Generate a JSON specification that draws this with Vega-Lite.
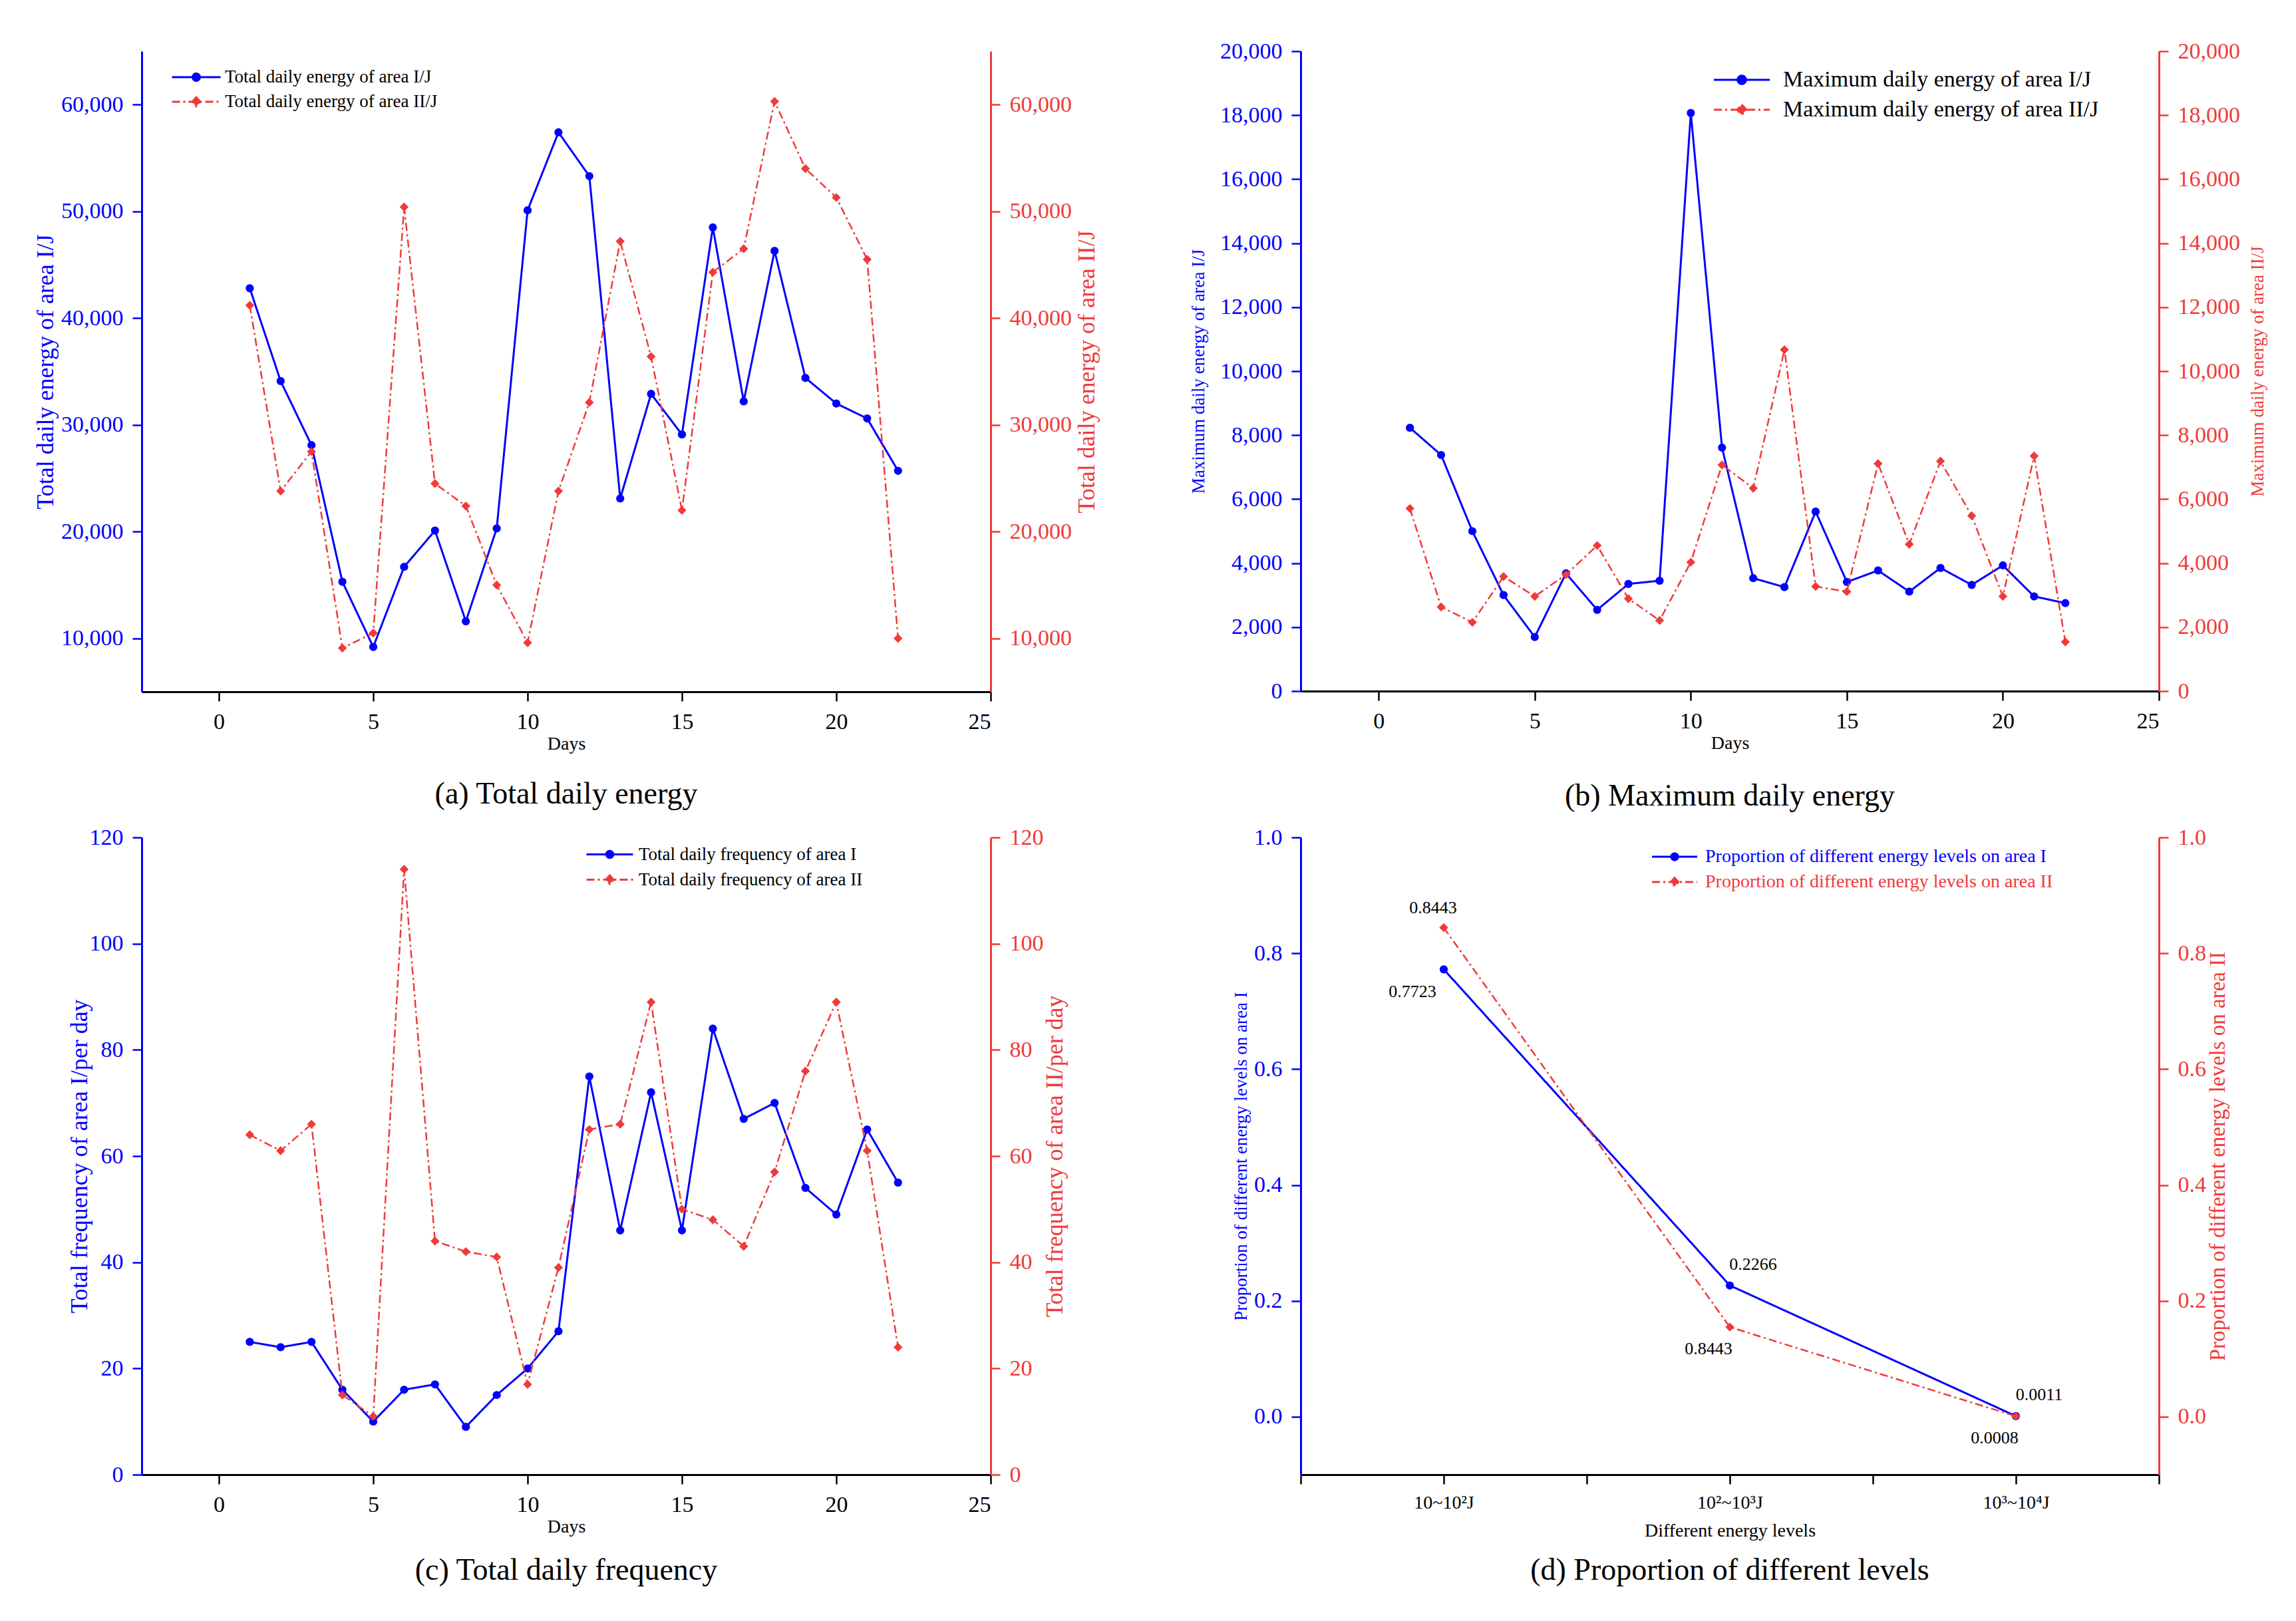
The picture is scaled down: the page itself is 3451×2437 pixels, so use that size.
{
  "$schema": "https://vega.github.io/schema/vega-lite/v6.json",
  "background": "white",
  "padding": {"left": 50, "top": 60, "right": 5, "bottom": 5},
  "bounds": "flush",
  "columns": 2,
  "spacing": {"row": 219, "column": 466},
  "resolve": {"scale": {"color": "independent", "strokeDash": "independent"}},
  "concat": [
    {
      "width": 1276,
      "height": 963,
      "title": {"text": "(a) Total daily energy", "orient": "bottom", "offset": 40},
      "data": {
        "values": [
          {"day": 1, "Total daily energy of area I/J": 42800, "Total daily energy of area II/J": 41200},
          {"day": 2, "Total daily energy of area I/J": 34100, "Total daily energy of area II/J": 23800},
          {"day": 3, "Total daily energy of area I/J": 28100, "Total daily energy of area II/J": 27500},
          {"day": 4, "Total daily energy of area I/J": 15300, "Total daily energy of area II/J": 9100},
          {"day": 5, "Total daily energy of area I/J": 9200, "Total daily energy of area II/J": 10500},
          {"day": 6, "Total daily energy of area I/J": 16700, "Total daily energy of area II/J": 50400},
          {"day": 7, "Total daily energy of area I/J": 20100, "Total daily energy of area II/J": 24500},
          {"day": 8, "Total daily energy of area I/J": 11600, "Total daily energy of area II/J": 22400},
          {"day": 9, "Total daily energy of area I/J": 20300, "Total daily energy of area II/J": 15000},
          {"day": 10, "Total daily energy of area I/J": 50100, "Total daily energy of area II/J": 9600},
          {"day": 11, "Total daily energy of area I/J": 57400, "Total daily energy of area II/J": 23800},
          {"day": 12, "Total daily energy of area I/J": 53300, "Total daily energy of area II/J": 32100},
          {"day": 13, "Total daily energy of area I/J": 23100, "Total daily energy of area II/J": 47200},
          {"day": 14, "Total daily energy of area I/J": 32900, "Total daily energy of area II/J": 36400},
          {"day": 15, "Total daily energy of area I/J": 29100, "Total daily energy of area II/J": 22000},
          {"day": 16, "Total daily energy of area I/J": 48500, "Total daily energy of area II/J": 44300},
          {"day": 17, "Total daily energy of area I/J": 32200, "Total daily energy of area II/J": 46500},
          {"day": 18, "Total daily energy of area I/J": 46300, "Total daily energy of area II/J": 60300},
          {"day": 19, "Total daily energy of area I/J": 34400, "Total daily energy of area II/J": 54000},
          {"day": 20, "Total daily energy of area I/J": 32000, "Total daily energy of area II/J": 51300},
          {"day": 21, "Total daily energy of area I/J": 30600, "Total daily energy of area II/J": 45500},
          {"day": 22, "Total daily energy of area I/J": 25700, "Total daily energy of area II/J": 10000}
        ]
      },
      "transform": [
        {"fold": ["Total daily energy of area I/J", "Total daily energy of area II/J"], "as": ["series", "value"]}
      ],
      "encoding": {
        "x": {
          "field": "day", "type": "quantitative",
          "scale": {"domain": [-2.5, 25], "nice": false, "zero": false},
          "axis": {"values": [0, 5, 10, 15, 20, 25], "title": "Days", "titleFontSize": 28, "titlePadding": 2}
        },
        "color": {
          "field": "series", "type": "nominal",
          "scale": {"domain": ["Total daily energy of area I/J", "Total daily energy of area II/J"], "range": ["#0000ff", "#f03a3a"]},
          "legend": {
            "title": null, "orient": "none", "legendX": 68, "legendY": 25, "padding": 0,
            "labelFontSize": 27, "labelOffset": 29, "labelLimit": 0, "symbolSize": 592, "symbolStrokeWidth": 3, "rowPadding": 10,
            "encoding": {"symbols": {
              "shape": {"value": {"expr": "datum.value === 'Total daily energy of area II/J' ? 'M-3,0H3M0,-0.55L0.5,0L0,0.55L-0.5,0Z' : 'M-3,0H3M0.45,0A0.45,0.45,0,1,1,-0.45,0A0.45,0.45,0,1,1,0.45,0Z'"}},
              "fill": {"value": {"expr": "datum.value === 'Total daily energy of area II/J' ? '#f03a3a' : '#0000ff'"}}
            }}
          }
        },
        "strokeDash": {
          "field": "series", "type": "nominal",
          "scale": {"domain": ["Total daily energy of area I/J", "Total daily energy of area II/J"], "range": [[1, 0], [12, 5, 3, 5]]},
          "legend": {
            "title": null, "orient": "none", "legendX": 68, "legendY": 25, "padding": 0,
            "labelFontSize": 27, "labelOffset": 29, "labelLimit": 0, "symbolSize": 592, "symbolStrokeWidth": 3, "rowPadding": 10,
            "encoding": {"symbols": {
              "shape": {"value": {"expr": "datum.value === 'Total daily energy of area II/J' ? 'M-3,0H3M0,-0.55L0.5,0L0,0.55L-0.5,0Z' : 'M-3,0H3M0.45,0A0.45,0.45,0,1,1,-0.45,0A0.45,0.45,0,1,1,0.45,0Z'"}},
              "fill": {"value": {"expr": "datum.value === 'Total daily energy of area II/J' ? '#f03a3a' : '#0000ff'"}}
            }}
          }
        }
      },
      "layer": [
        {
          "transform": [{"filter": {"field": "series", "equal": "Total daily energy of area I/J"}}],
          "mark": {"type": "line", "strokeWidth": 3, "point": {"filled": true, "size": 150, "shape": "circle"}},
          "encoding": {
            "y": {
              "field": "value", "type": "quantitative",
              "scale": {"domain": [5000, 65000], "nice": false, "zero": false},
              "axis": {
                "orient": "left", "title": "Total daily energy of area I/J",
                "values": [10000, 20000, 30000, 40000, 50000, 60000], "format": ",d",
                "domainColor": "#0000ff", "tickColor": "#0000ff", "labelColor": "#0000ff", "titleColor": "#0000ff",
                "titleFontSize": 36, "titlePadding": 4
              }
            }
          }
        },
        {
          "transform": [{"filter": {"field": "series", "equal": "Total daily energy of area II/J"}}],
          "mark": {"type": "line", "strokeWidth": 2.5, "point": {"filled": true, "size": 180, "shape": "diamond"}},
          "encoding": {
            "y": {
              "field": "value", "type": "quantitative",
              "scale": {"domain": [5000, 65000], "nice": false, "zero": false},
              "axis": {
                "orient": "right", "title": "Total daily energy of area II/J",
                "values": [10000, 20000, 30000, 40000, 50000, 60000], "format": ",d",
                "domainColor": "#f03a3a", "tickColor": "#f03a3a", "labelColor": "#f03a3a", "titleColor": "#f03a3a",
                "titleFontSize": 36, "titleAngle": 270, "titleBaseline": "top", "titlePadding": 6
              }
            }
          }
        }
      ],
      "resolve": {"scale": {"y": "independent"}}
    },
    {
      "width": 1290,
      "height": 962,
      "title": {"text": "(b) Maximum daily energy", "orient": "bottom", "offset": 44},
      "data": {
        "values": [
          {"day": 1, "Maximum daily energy of area I/J": 8230, "Maximum daily energy of area II/J": 5710},
          {"day": 2, "Maximum daily energy of area I/J": 7380, "Maximum daily energy of area II/J": 2630},
          {"day": 3, "Maximum daily energy of area I/J": 5000, "Maximum daily energy of area II/J": 2150},
          {"day": 4, "Maximum daily energy of area I/J": 3000, "Maximum daily energy of area II/J": 3580},
          {"day": 5, "Maximum daily energy of area I/J": 1690, "Maximum daily energy of area II/J": 2960},
          {"day": 6, "Maximum daily energy of area I/J": 3680, "Maximum daily energy of area II/J": 3640},
          {"day": 7, "Maximum daily energy of area I/J": 2540, "Maximum daily energy of area II/J": 4550},
          {"day": 8, "Maximum daily energy of area I/J": 3350, "Maximum daily energy of area II/J": 2890},
          {"day": 9, "Maximum daily energy of area I/J": 3450, "Maximum daily energy of area II/J": 2210},
          {"day": 10, "Maximum daily energy of area I/J": 18070, "Maximum daily energy of area II/J": 4030},
          {"day": 11, "Maximum daily energy of area I/J": 7610, "Maximum daily energy of area II/J": 7070},
          {"day": 12, "Maximum daily energy of area I/J": 3530, "Maximum daily energy of area II/J": 6340},
          {"day": 13, "Maximum daily energy of area I/J": 3250, "Maximum daily energy of area II/J": 10670},
          {"day": 14, "Maximum daily energy of area I/J": 5610, "Maximum daily energy of area II/J": 3270},
          {"day": 15, "Maximum daily energy of area I/J": 3410, "Maximum daily energy of area II/J": 3110},
          {"day": 16, "Maximum daily energy of area I/J": 3770, "Maximum daily energy of area II/J": 7110},
          {"day": 17, "Maximum daily energy of area I/J": 3110, "Maximum daily energy of area II/J": 4590},
          {"day": 18, "Maximum daily energy of area I/J": 3850, "Maximum daily energy of area II/J": 7190},
          {"day": 19, "Maximum daily energy of area I/J": 3320, "Maximum daily energy of area II/J": 5480},
          {"day": 20, "Maximum daily energy of area I/J": 3930, "Maximum daily energy of area II/J": 2960},
          {"day": 21, "Maximum daily energy of area I/J": 2960, "Maximum daily energy of area II/J": 7350},
          {"day": 22, "Maximum daily energy of area I/J": 2750, "Maximum daily energy of area II/J": 1540}
        ]
      },
      "transform": [
        {"fold": ["Maximum daily energy of area I/J", "Maximum daily energy of area II/J"], "as": ["series", "value"]}
      ],
      "encoding": {
        "x": {
          "field": "day", "type": "quantitative",
          "scale": {"domain": [-2.5, 25], "nice": false, "zero": false},
          "axis": {"values": [0, 5, 10, 15, 20, 25], "title": "Days", "titleFontSize": 28, "titlePadding": 2}
        },
        "color": {
          "field": "series", "type": "nominal",
          "scale": {"domain": ["Maximum daily energy of area I/J", "Maximum daily energy of area II/J"], "range": ["#0000ff", "#f03a3a"]},
          "legend": {
            "title": null, "orient": "none", "legendX": 646, "legendY": 26, "padding": 0,
            "labelFontSize": 34, "labelOffset": 45, "labelLimit": 0, "symbolSize": 784, "symbolStrokeWidth": 3, "rowPadding": 11,
            "encoding": {"symbols": {
              "shape": {"value": {"expr": "datum.value === 'Maximum daily energy of area II/J' ? 'M-3,0H3M0,-0.55L0.5,0L0,0.55L-0.5,0Z' : 'M-3,0H3M0.45,0A0.45,0.45,0,1,1,-0.45,0A0.45,0.45,0,1,1,0.45,0Z'"}},
              "fill": {"value": {"expr": "datum.value === 'Maximum daily energy of area II/J' ? '#f03a3a' : '#0000ff'"}}
            }}
          }
        },
        "strokeDash": {
          "field": "series", "type": "nominal",
          "scale": {"domain": ["Maximum daily energy of area I/J", "Maximum daily energy of area II/J"], "range": [[1, 0], [12, 5, 3, 5]]},
          "legend": {
            "title": null, "orient": "none", "legendX": 646, "legendY": 26, "padding": 0,
            "labelFontSize": 34, "labelOffset": 45, "labelLimit": 0, "symbolSize": 784, "symbolStrokeWidth": 3, "rowPadding": 11,
            "encoding": {"symbols": {
              "shape": {"value": {"expr": "datum.value === 'Maximum daily energy of area II/J' ? 'M-3,0H3M0,-0.55L0.5,0L0,0.55L-0.5,0Z' : 'M-3,0H3M0.45,0A0.45,0.45,0,1,1,-0.45,0A0.45,0.45,0,1,1,0.45,0Z'"}},
              "fill": {"value": {"expr": "datum.value === 'Maximum daily energy of area II/J' ? '#f03a3a' : '#0000ff'"}}
            }}
          }
        }
      },
      "layer": [
        {
          "transform": [{"filter": {"field": "series", "equal": "Maximum daily energy of area I/J"}}],
          "mark": {"type": "line", "strokeWidth": 3, "point": {"filled": true, "size": 150, "shape": "circle"}},
          "encoding": {
            "y": {
              "field": "value", "type": "quantitative",
              "scale": {"domain": [0, 20000], "nice": false},
              "axis": {
                "orient": "left", "title": "Maximum daily energy of area I/J",
                "values": [0, 2000, 4000, 6000, 8000, 10000, 12000, 14000, 16000, 18000, 20000], "format": ",d",
                "domainColor": "#0000ff", "tickColor": "#0000ff", "labelColor": "#0000ff", "titleColor": "#0000ff",
                "titleFontSize": 27, "titlePadding": 18
              }
            }
          }
        },
        {
          "transform": [{"filter": {"field": "series", "equal": "Maximum daily energy of area II/J"}}],
          "mark": {"type": "line", "strokeWidth": 2.5, "point": {"filled": true, "size": 180, "shape": "diamond"}},
          "encoding": {
            "y": {
              "field": "value", "type": "quantitative",
              "scale": {"domain": [0, 20000], "nice": false},
              "axis": {
                "orient": "right", "title": "Maximum daily energy of area II/J",
                "values": [0, 2000, 4000, 6000, 8000, 10000, 12000, 14000, 16000, 18000, 20000], "format": ",d",
                "domainColor": "#f03a3a", "tickColor": "#f03a3a", "labelColor": "#f03a3a", "titleColor": "#f03a3a",
                "titleFontSize": 27, "titleAngle": 270, "titleBaseline": "top", "titlePadding": 14
              }
            }
          }
        }
      ],
      "resolve": {"scale": {"y": "independent"}}
    },
    {
      "width": 1276,
      "height": 958,
      "title": {"text": "(c) Total daily frequency", "orient": "bottom", "offset": 30},
      "data": {
        "values": [
          {"day": 1, "Total daily frequency of area I": 25, "Total daily frequency of area II": 64},
          {"day": 2, "Total daily frequency of area I": 24, "Total daily frequency of area II": 61},
          {"day": 3, "Total daily frequency of area I": 25, "Total daily frequency of area II": 66},
          {"day": 4, "Total daily frequency of area I": 16, "Total daily frequency of area II": 15},
          {"day": 5, "Total daily frequency of area I": 10, "Total daily frequency of area II": 11},
          {"day": 6, "Total daily frequency of area I": 16, "Total daily frequency of area II": 114},
          {"day": 7, "Total daily frequency of area I": 17, "Total daily frequency of area II": 44},
          {"day": 8, "Total daily frequency of area I": 9, "Total daily frequency of area II": 42},
          {"day": 9, "Total daily frequency of area I": 15, "Total daily frequency of area II": 41},
          {"day": 10, "Total daily frequency of area I": 20, "Total daily frequency of area II": 17},
          {"day": 11, "Total daily frequency of area I": 27, "Total daily frequency of area II": 39},
          {"day": 12, "Total daily frequency of area I": 75, "Total daily frequency of area II": 65},
          {"day": 13, "Total daily frequency of area I": 46, "Total daily frequency of area II": 66},
          {"day": 14, "Total daily frequency of area I": 72, "Total daily frequency of area II": 89},
          {"day": 15, "Total daily frequency of area I": 46, "Total daily frequency of area II": 50},
          {"day": 16, "Total daily frequency of area I": 84, "Total daily frequency of area II": 48},
          {"day": 17, "Total daily frequency of area I": 67, "Total daily frequency of area II": 43},
          {"day": 18, "Total daily frequency of area I": 70, "Total daily frequency of area II": 57},
          {"day": 19, "Total daily frequency of area I": 54, "Total daily frequency of area II": 76},
          {"day": 20, "Total daily frequency of area I": 49, "Total daily frequency of area II": 89},
          {"day": 21, "Total daily frequency of area I": 65, "Total daily frequency of area II": 61},
          {"day": 22, "Total daily frequency of area I": 55, "Total daily frequency of area II": 24}
        ]
      },
      "transform": [
        {"fold": ["Total daily frequency of area I", "Total daily frequency of area II"], "as": ["series", "value"]}
      ],
      "encoding": {
        "x": {
          "field": "day", "type": "quantitative",
          "scale": {"domain": [-2.5, 25], "nice": false, "zero": false},
          "axis": {"values": [0, 5, 10, 15, 20, 25], "title": "Days", "titleFontSize": 28, "titlePadding": 2}
        },
        "color": {
          "field": "series", "type": "nominal",
          "scale": {"domain": ["Total daily frequency of area I", "Total daily frequency of area II"], "range": ["#0000ff", "#f03a3a"]},
          "legend": {
            "title": null, "orient": "none", "legendX": 690, "legendY": 12, "padding": 0,
            "labelFontSize": 27, "labelOffset": 30, "labelLimit": 0, "symbolSize": 544, "symbolStrokeWidth": 3, "rowPadding": 10,
            "encoding": {"symbols": {
              "shape": {"value": {"expr": "datum.value === 'Total daily frequency of area II' ? 'M-3,0H3M0,-0.55L0.5,0L0,0.55L-0.5,0Z' : 'M-3,0H3M0.45,0A0.45,0.45,0,1,1,-0.45,0A0.45,0.45,0,1,1,0.45,0Z'"}},
              "fill": {"value": {"expr": "datum.value === 'Total daily frequency of area II' ? '#f03a3a' : '#0000ff'"}}
            }}
          }
        },
        "strokeDash": {
          "field": "series", "type": "nominal",
          "scale": {"domain": ["Total daily frequency of area I", "Total daily frequency of area II"], "range": [[1, 0], [12, 5, 3, 5]]},
          "legend": {
            "title": null, "orient": "none", "legendX": 690, "legendY": 12, "padding": 0,
            "labelFontSize": 27, "labelOffset": 30, "labelLimit": 0, "symbolSize": 544, "symbolStrokeWidth": 3, "rowPadding": 10,
            "encoding": {"symbols": {
              "shape": {"value": {"expr": "datum.value === 'Total daily frequency of area II' ? 'M-3,0H3M0,-0.55L0.5,0L0,0.55L-0.5,0Z' : 'M-3,0H3M0.45,0A0.45,0.45,0,1,1,-0.45,0A0.45,0.45,0,1,1,0.45,0Z'"}},
              "fill": {"value": {"expr": "datum.value === 'Total daily frequency of area II' ? '#f03a3a' : '#0000ff'"}}
            }}
          }
        }
      },
      "layer": [
        {
          "transform": [{"filter": {"field": "series", "equal": "Total daily frequency of area I"}}],
          "mark": {"type": "line", "strokeWidth": 3, "point": {"filled": true, "size": 150, "shape": "circle"}},
          "encoding": {
            "y": {
              "field": "value", "type": "quantitative",
              "scale": {"domain": [0, 120], "nice": false},
              "axis": {
                "orient": "left", "title": "Total  frequency of area I/per day",
                "values": [0, 20, 40, 60, 80, 100, 120],
                "domainColor": "#0000ff", "tickColor": "#0000ff", "labelColor": "#0000ff", "titleColor": "#0000ff",
                "titleFontSize": 36, "titlePadding": -4
              }
            }
          }
        },
        {
          "transform": [{"filter": {"field": "series", "equal": "Total daily frequency of area II"}}],
          "mark": {"type": "line", "strokeWidth": 2.5, "point": {"filled": true, "size": 180, "shape": "diamond"}},
          "encoding": {
            "y": {
              "field": "value", "type": "quantitative",
              "scale": {"domain": [0, 120], "nice": false},
              "axis": {
                "orient": "right", "title": "Total  frequency of area II/per day",
                "values": [0, 20, 40, 60, 80, 100, 120],
                "domainColor": "#f03a3a", "tickColor": "#f03a3a", "labelColor": "#f03a3a", "titleColor": "#f03a3a",
                "titleFontSize": 36, "titleAngle": 270, "titleBaseline": "top", "titlePadding": 0
              }
            }
          }
        }
      ],
      "resolve": {"scale": {"y": "independent"}}
    },
    {
      "width": 1290,
      "height": 958,
      "title": {"text": "(d) Proportion of different levels", "orient": "bottom", "offset": 24},
      "data": {
        "values": [
          {"idx": 1, "series": "Proportion of different energy levels on area I", "value": 0.7723, "label": "0.7723"},
          {"idx": 2, "series": "Proportion of different energy levels on area I", "value": 0.2266, "label": "0.2266"},
          {"idx": 3, "series": "Proportion of different energy levels on area I", "value": 0.0011, "label": "0.0011"},
          {"idx": 1, "series": "Proportion of different energy levels on area II", "value": 0.8443, "label": "0.8443"},
          {"idx": 2, "series": "Proportion of different energy levels on area II", "value": 0.1548, "label": "0.8443"},
          {"idx": 3, "series": "Proportion of different energy levels on area II", "value": 0.0008, "label": "0.0008"}
        ]
      },
      "encoding": {
        "x": {
          "field": "idx", "type": "quantitative",
          "scale": {"domain": [0.5, 3.5], "nice": false, "zero": false},
          "axis": {
            "values": [0.5, 1, 1.5, 2, 2.5, 3, 3.5],
            "labelExpr": "datum.value == 1 ? '10~10²J' : datum.value == 2 ? '10²~10³J' : datum.value == 3 ? '10³~10⁴J' : ''",
            "labelFontSize": 28, "title": "Different energy levels", "titleFontSize": 28, "titlePadding": 14
          }
        },
        "color": {
          "field": "series", "type": "nominal",
          "scale": {"domain": ["Proportion of different energy levels on area I", "Proportion of different energy levels on area II"], "range": ["#0000ff", "#f03a3a"]},
          "legend": {
            "title": null, "orient": "none", "legendX": 548, "legendY": 15, "padding": 0,
            "labelFontSize": 28, "labelOffset": 32, "labelLimit": 0, "symbolSize": 514, "symbolStrokeWidth": 3, "rowPadding": 10,
            "encoding": {
              "symbols": {
                "shape": {"value": {"expr": "datum.value === 'Proportion of different energy levels on area II' ? 'M-3,0H3M0,-0.55L0.5,0L0,0.55L-0.5,0Z' : 'M-3,0H3M0.45,0A0.45,0.45,0,1,1,-0.45,0A0.45,0.45,0,1,1,0.45,0Z'"}},
                "fill": {"value": {"expr": "datum.value === 'Proportion of different energy levels on area II' ? '#f03a3a' : '#0000ff'"}}
              },
              "labels": {
                "fill": {"value": {"expr": "datum.value === 'Proportion of different energy levels on area II' ? '#f03a3a' : '#0000ff'"}}
              }
            }
          }
        },
        "strokeDash": {
          "field": "series", "type": "nominal",
          "scale": {"domain": ["Proportion of different energy levels on area I", "Proportion of different energy levels on area II"], "range": [[1, 0], [12, 5, 3, 5]]},
          "legend": {
            "title": null, "orient": "none", "legendX": 548, "legendY": 15, "padding": 0,
            "labelFontSize": 28, "labelOffset": 32, "labelLimit": 0, "symbolSize": 514, "symbolStrokeWidth": 3, "rowPadding": 10,
            "encoding": {
              "symbols": {
                "shape": {"value": {"expr": "datum.value === 'Proportion of different energy levels on area II' ? 'M-3,0H3M0,-0.55L0.5,0L0,0.55L-0.5,0Z' : 'M-3,0H3M0.45,0A0.45,0.45,0,1,1,-0.45,0A0.45,0.45,0,1,1,0.45,0Z'"}},
                "fill": {"value": {"expr": "datum.value === 'Proportion of different energy levels on area II' ? '#f03a3a' : '#0000ff'"}}
              },
              "labels": {
                "fill": {"value": {"expr": "datum.value === 'Proportion of different energy levels on area II' ? '#f03a3a' : '#0000ff'"}}
              }
            }
          }
        }
      },
      "layer": [
        {
          "transform": [{"filter": {"field": "series", "equal": "Proportion of different energy levels on area I"}}],
          "encoding": {
            "y": {
              "field": "value", "type": "quantitative",
              "scale": {"domain": [-0.1, 1.0], "nice": false, "zero": false},
              "axis": {
                "orient": "left", "title": "Proportion of different energy levels on area I",
                "values": [0, 0.2, 0.4, 0.6, 0.8, 1.0], "format": ".1f",
                "domainColor": "#0000ff", "tickColor": "#0000ff", "labelColor": "#0000ff", "titleColor": "#0000ff",
                "titleFontSize": 27, "titlePadding": 5
              }
            }
          },
          "layer": [
            {"mark": {"type": "line", "strokeWidth": 3, "point": {"filled": true, "size": 150, "shape": "circle"}}},
            {
              "transform": [{"filter": "datum.idx >= 2"}],
              "mark": {"type": "text", "fontSize": 26, "dx": 35, "dy": -32},
              "encoding": {"text": {"field": "label"}, "color": {"value": "black"}, "strokeDash": {"value": [1, 0]}}
            },
            {
              "transform": [{"filter": "datum.idx == 1"}],
              "mark": {"type": "text", "fontSize": 26, "dx": -47, "dy": 34},
              "encoding": {"text": {"field": "label"}, "color": {"value": "black"}, "strokeDash": {"value": [1, 0]}}
            }
          ]
        },
        {
          "transform": [{"filter": {"field": "series", "equal": "Proportion of different energy levels on area II"}}],
          "encoding": {
            "y": {
              "field": "value", "type": "quantitative",
              "scale": {"domain": [-0.1, 1.0], "nice": false, "zero": false},
              "axis": {
                "orient": "right", "title": "Proportion of different energy levels on area II",
                "values": [0, 0.2, 0.4, 0.6, 0.8, 1.0], "format": ".1f",
                "domainColor": "#f03a3a", "tickColor": "#f03a3a", "labelColor": "#f03a3a", "titleColor": "#f03a3a",
                "titleFontSize": 33, "titleAngle": 270, "titleBaseline": "top", "titlePadding": 2
              }
            }
          },
          "layer": [
            {"mark": {"type": "line", "strokeWidth": 2.5, "point": {"filled": true, "size": 180, "shape": "diamond"}}},
            {
              "transform": [{"filter": "datum.idx == 1"}],
              "mark": {"type": "text", "fontSize": 26, "dx": -16, "dy": -30},
              "encoding": {"text": {"field": "label"}, "color": {"value": "black"}, "strokeDash": {"value": [1, 0]}}
            },
            {
              "transform": [{"filter": "datum.idx >= 2"}],
              "mark": {"type": "text", "fontSize": 26, "dx": -32, "dy": 33},
              "encoding": {"text": {"field": "label"}, "color": {"value": "black"}, "strokeDash": {"value": [1, 0]}}
            }
          ]
        }
      ],
      "resolve": {"scale": {"y": "independent"}}
    }
  ],
  "config": {
    "font": "Liberation Serif",
    "view": {"stroke": null},
    "axis": {
      "labelFont": "Liberation Serif", "titleFont": "Liberation Serif",
      "labelFontSize": 34, "titleFontWeight": "normal",
      "labelColor": "black", "titleColor": "black", "domainColor": "black", "tickColor": "black",
      "domainWidth": 3, "tickWidth": 2.5, "tickSize": 14, "labelPadding": 14, "grid": false
    },
    "legend": {"labelFont": "Liberation Serif", "labelColor": "black"},
    "text": {"font": "Liberation Serif"},
    "title": {"font": "Liberation Serif", "fontSize": 46, "fontWeight": "normal", "color": "black"}
  }
}
